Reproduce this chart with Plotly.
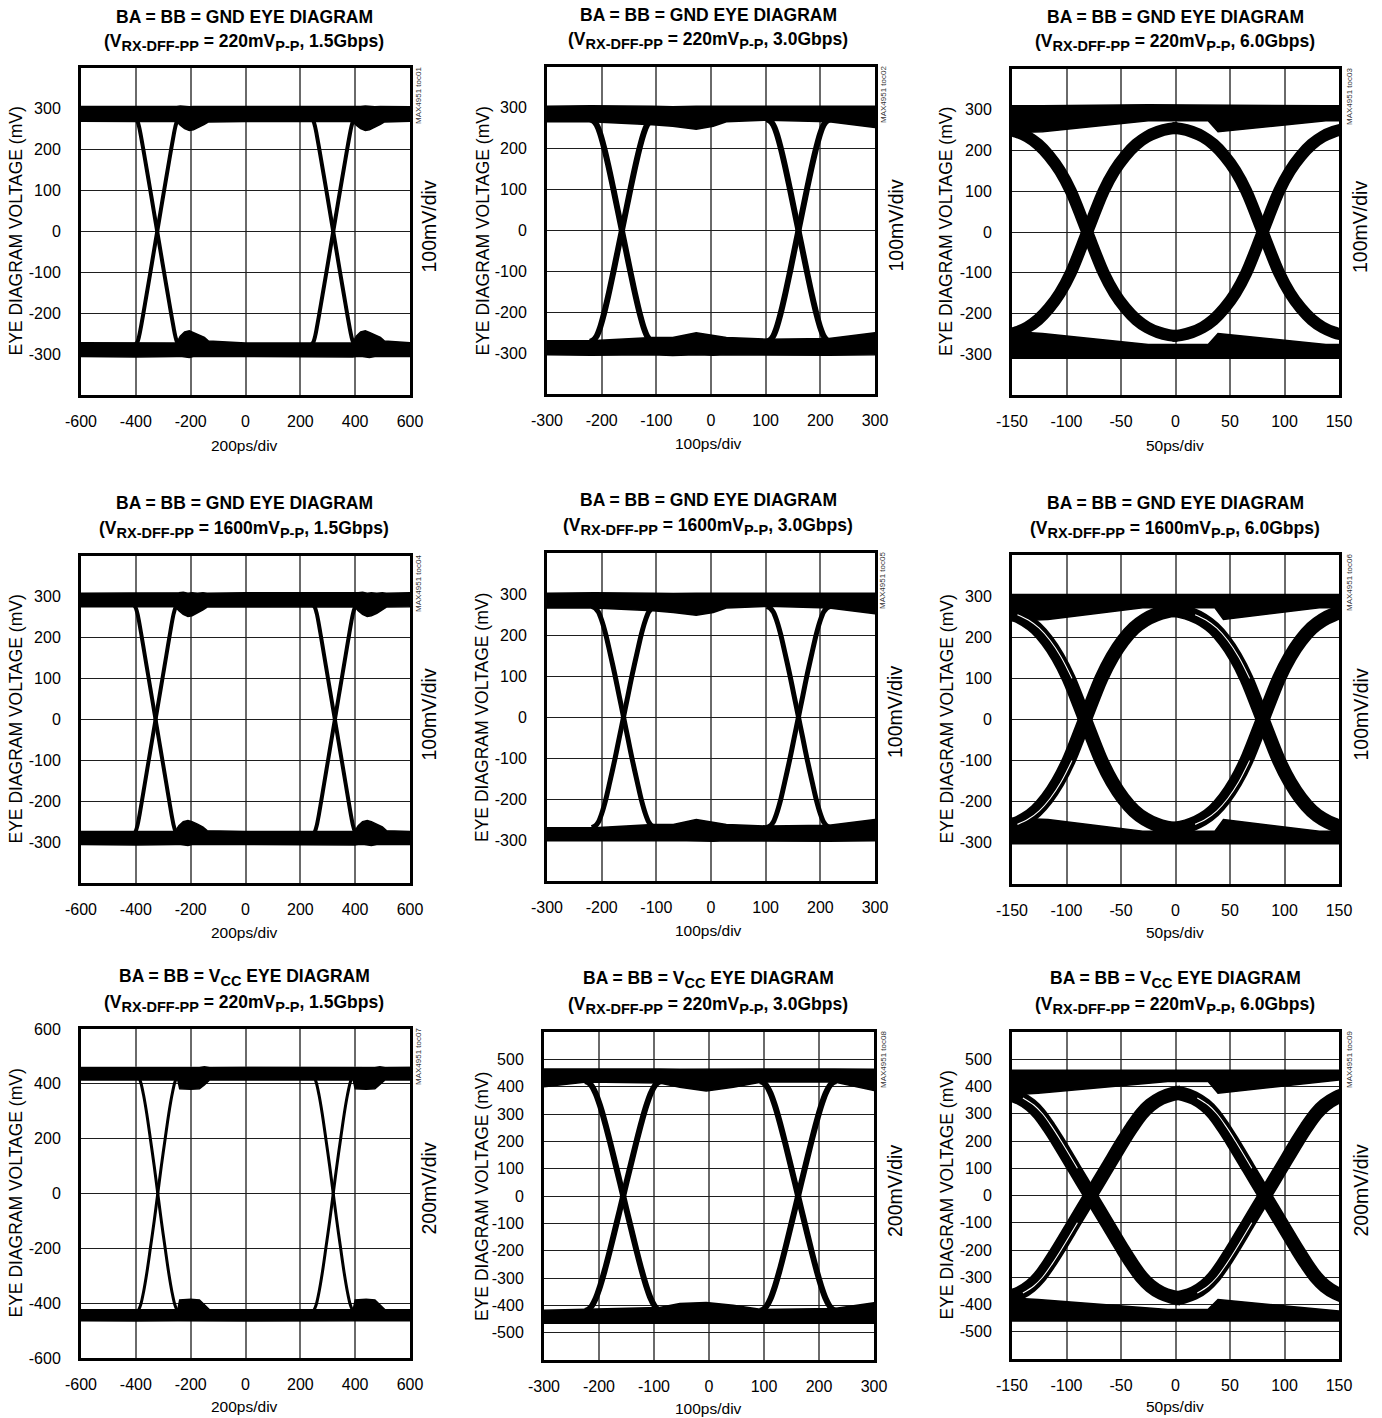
import plotly.graph_objects as go

W, H = 1382, 1418
FONT = "Liberation Sans Narrow, Arial Narrow, Liberation Sans, Arial, sans-serif"

# ---------------- tick values ----------------
x_ticks_1g5 = [-600, -400, -200, 0, 200, 400, 600]
x_ticks_3g0 = [-300, -200, -100, 0, 100, 200, 300]
x_ticks_6g0 = [-150, -100, -50, 0, 50, 100, 150]
y_ticks_gnd = [-300, -200, -100, 0, 100, 200, 300]
y_ticks_vcc_coarse = [-600, -400, -200, 0, 200, 400, 600]
y_ticks_vcc_fine = [-500, -400, -300, -200, -100, 0, 100, 200, 300, 400, 500]
p7_extra_grid = [-462, 460]

# ---------------- texts ----------------
SUB = "<sub><span style='font-size:14.5px'>%s</span></sub>"
title_line1 = ["BA = BB = GND EYE DIAGRAM"] * 6 + ["BA = BB = V" + SUB % "CC" + " EYE DIAGRAM"] * 3
title_amp = ["220", "220", "220", "1600", "1600", "1600", "220", "220", "220"]
title_rate = ["1.5Gbps", "3.0Gbps", "6.0Gbps"] * 3
title_line2 = ["(V" + SUB % "RX-DFF-PP" + " = " + a + "mV" + SUB % "P-P" + ", " + r_ + ")"
               for a, r_ in zip(title_amp, title_rate)]
x_titles = ["200ps/div", "100ps/div", "50ps/div"] * 3
y_title = "EYE DIAGRAM VOLTAGE (mV)"
scale_labels = ["100mV/div"] * 6 + ["200mV/div"] * 3
toc_labels = ["MAX4951 toc0%d" % i for i in range(1, 10)]

# ---------------- eye data (ps, mV) ----------------
# each panel: crossing times, rising-edge profile (dt from crossing, mV),
# rail x positions and the top/bottom outline of the high and low rail bands

# panel 1: GND, 220mVp-p, 1.5Gbps
p1_cross = [-322, 320]
p1_dt = [-78, -72, -66, -60, -51, -39, -26, -13, 0, 13, 26, 39, 51, 60, 66, 72, 78]
p1_v = [-276, -270, -256, -236, -202, -155, -104, -52, 0, 52, 104, 155, 202, 236, 256, 270, 276]
p1_rx = [-600, -400, -251, -238, -222, -205, -190, -170, -150, -135, 0, 391, 404, 420, 437, 452, 472, 492, 507, 600]
p1_ht = [306, 305, 306, 307, 306, 305, 306, 306, 305, 306, 306, 306, 305, 306, 307, 306, 305, 306, 306, 305]
p1_hb = [270, 269, 269, 260, 252, 247, 249, 255, 262, 268, 269, 269, 260, 252, 247, 249, 255, 262, 268, 270]
p1_lt = [-272, -273, -273, -256, -246, -243, -247, -253, -259, -268, -273, -273, -256, -246, -243, -247, -253, -259, -268, -272]
p1_lb = [-306, -307, -306, -305, -306, -308, -306, -305, -306, -306, -306, -307, -306, -305, -306, -308, -306, -305, -306, -306]

# panel 2: GND, 220mVp-p, 3.0Gbps
p2_cross = [-163, 160]
p2_dt = [-58, -52, -46, -40, -33, -25, -16, -8, 0, 8, 16, 25, 33, 40, 46, 52, 58]
p2_v = [-272, -268, -258, -238, -205, -160, -104, -52, 0, 52, 104, 160, 205, 238, 258, 268, 272]
p2_rx = [-300, -220, -107, -70, -27, 4, 28, 104, 216, 300]
p2_ht = [304, 305, 304, 303, 304, 305, 304, 304, 305, 304]
p2_hb = [266, 266, 259, 255, 248, 255, 266, 270, 266, 252]
p2_lt = [-270, -270, -262, -262, -250, -256, -262, -266, -264, -250]
p2_lb = [-304, -305, -304, -306, -304, -305, -304, -304, -305, -304]

# panel 3: GND, 220mVp-p, 6.0Gbps
p3_cross = [-81, 80]
p3_dt = [-83, -75, -65, -55, -45, -35, -25, -15, 0, 15, 25, 35, 45, 55, 65, 75, 83]
p3_v = [-255, -253, -246, -234, -215, -187, -150, -100, 0, 100, 150, 187, 215, 234, 246, 253, 255]
p3_rx = [-150, -122, -25, 30, 39, 138, 150]
p3_ht = [310, 310, 312, 311, 310, 310, 310]
p3_hb = [244, 246, 273, 273, 246, 273, 273]
p3_lt = [-244, -249, -276, -276, -249, -276, -276]
p3_lb = [-310, -310, -311, -310, -310, -310, -310]

# panel 4: GND, 1600mVp-p, 1.5Gbps
p4_cross = [-328, 326]
p4_dt = [-78, -72, -66, -60, -51, -39, -26, -13, 0, 13, 26, 39, 51, 60, 66, 72, 78]
p4_v = [-280, -273, -259, -239, -204, -156, -104, -52, 0, 52, 104, 156, 204, 239, 259, 273, 280]
p4_rx = [-600, -400, -256, -243, -227, -210, -195, -175, -155, -140, 0, 398, 411, 427, 444, 459, 479, 499, 514, 600]
p4_ht = [309, 310, 309, 310, 311, 309, 310, 309, 310, 309, 310, 309, 310, 311, 309, 310, 309, 310, 309, 310]
p4_hb = [276, 276, 276, 266, 257, 252, 254, 260, 268, 275, 276, 276, 266, 257, 252, 254, 260, 268, 275, 276]
p4_lt = [-274, -274, -274, -260, -250, -247, -250, -256, -263, -272, -274, -274, -260, -250, -247, -250, -256, -263, -272, -274]
p4_lb = [-306, -307, -306, -305, -306, -308, -306, -305, -306, -306, -306, -307, -306, -305, -306, -308, -306, -305, -306, -306]

# panel 5: GND, 1600mVp-p, 3.0Gbps
p5_cross = [-160, 160]
p5_dt = [-58, -52, -46, -40, -33, -25, -16, -8, 0, 8, 16, 25, 33, 40, 46, 52, 58]
p5_v = [-270, -266, -256, -236, -204, -158, -104, -52, 0, 52, 104, 158, 204, 236, 256, 266, 270]
p5_rx = [-300, -213, -106, -69, -27, 4, 28, 104, 216, 300]
p5_ht = [302, 303, 302, 301, 302, 303, 302, 302, 303, 302]
p5_hb = [266, 266, 259, 255, 248, 255, 266, 270, 266, 252]
p5_lt = [-270, -270, -262, -262, -250, -256, -262, -266, -264, -250]
p5_lb = [-302, -303, -302, -301, -302, -303, -302, -302, -303, -302]

# panel 6: GND, 1600mVp-p, 6.0Gbps
p6_cross = [-83, 80]
p6_dt = [-83, -75, -65, -55, -45, -35, -25, -15, 0, 15, 25, 35, 45, 55, 65, 75, 83]
p6_v = [-266, -263, -255, -242, -222, -192, -152, -100, 0, 100, 152, 192, 222, 242, 255, 263, 266]
p6_rx = [-150, -117, -30, 36, 44, 132, 150]
p6_ht = [304, 304, 305, 304, 304, 304, 304]
p6_hb = [240, 243, 272, 272, 243, 272, 272]
p6_lt = [-240, -243, -272, -272, -243, -272, -272]
p6_lb = [-302, -302, -303, -302, -302, -302, -302]

# panel 7: VCC, 220mVp-p, 1.5Gbps
p7_cross = [-320, 320]
p7_dt = [-76, -70, -62, -52, -40, -27, -13, 0, 13, 27, 40, 52, 62, 70, 76]
p7_v = [-432, -425, -405, -360, -290, -200, -100, 0, 100, 200, 290, 360, 405, 425, 432]
p7_rx = [-600, -400, -247, -240, -200, -168, -150, -131, 0, 393, 400, 440, 472, 490, 509, 600]
p7_ht = [459, 460, 459, 461, 460, 459, 462, 459, 460, 459, 461, 460, 459, 462, 459, 460]
p7_hb = [414, 414, 414, 382, 380, 382, 396, 414, 414, 414, 382, 380, 382, 396, 414, 414]
p7_lt = [-424, -424, -424, -388, -386, -388, -405, -424, -424, -424, -388, -386, -388, -405, -424, -424]
p7_lb = [-464, -465, -464, -463, -464, -466, -464, -464, -465, -464, -463, -464, -466, -464, -464, -464]

# panel 8: VCC, 220mVp-p, 3.0Gbps
p8_cross = [-156, 162]
p8_dt = [-69, -63, -57, -50, -42, -34, -24, -12, 0, 12, 24, 34, 42, 50, 57, 63, 69]
p8_v = [-420, -415, -402, -375, -330, -275, -198, -100, 0, 100, 198, 275, 330, 375, 402, 415, 420]
p8_rx = [-300, -223, -90, -53, -5, 44, 96, 228, 300]
p8_ht = [465, 466, 465, 464, 465, 466, 465, 465, 464]
p8_hb = [400, 417, 413, 398, 384, 398, 417, 417, 386]
p8_lt = [-418, -415, -408, -393, -390, -400, -415, -412, -391]
p8_lb = [-466, -467, -466, -465, -466, -467, -466, -466, -466]

# panel 9: VCC, 220mVp-p, 6.0Gbps
p9_cross = [-78, 82]
p9_dt = [-83, -75, -65, -55, -47, -38, -30, -15, 0, 15, 30, 38, 47, 55, 65, 75, 83]
p9_v = [-378, -372, -358, -332, -300, -250, -200, -100, 0, 100, 200, 250, 300, 332, 358, 372, 378]
p9_rx = [-150, -126, -7, 30, 39, 150]
p9_ht = [460, 460, 461, 460, 460, 460]
p9_hb = [370, 375, 418, 418, 375, 424]
p9_lt = [-376, -382, -418, -418, -382, -424]
p9_lb = [-461, -461, -462, -461, -461, -461]

panels = [
    (p1_cross, p1_dt, p1_v, p1_rx, p1_ht, p1_hb, p1_lt, p1_lb),
    (p2_cross, p2_dt, p2_v, p2_rx, p2_ht, p2_hb, p2_lt, p2_lb),
    (p3_cross, p3_dt, p3_v, p3_rx, p3_ht, p3_hb, p3_lt, p3_lb),
    (p4_cross, p4_dt, p4_v, p4_rx, p4_ht, p4_hb, p4_lt, p4_lb),
    (p5_cross, p5_dt, p5_v, p5_rx, p5_ht, p5_hb, p5_lt, p5_lb),
    (p6_cross, p6_dt, p6_v, p6_rx, p6_ht, p6_hb, p6_lt, p6_lb),
    (p7_cross, p7_dt, p7_v, p7_rx, p7_ht, p7_hb, p7_lt, p7_lb),
    (p8_cross, p8_dt, p8_v, p8_rx, p8_ht, p8_hb, p8_lt, p8_lb),
    (p9_cross, p9_dt, p9_v, p9_rx, p9_ht, p9_hb, p9_lt, p9_lb),
]

# ---------------- layout / style (pixels) ----------------
boxes = [  # left, top, right, bottom
    (81, 68, 410, 395), (547, 67, 875, 394), (1012, 69, 1339, 395),
    (81, 556, 410, 883), (547, 553, 875, 881), (1012, 555, 1339, 884),
    (81, 1029, 410, 1358), (544, 1032, 874, 1360), (1012, 1032, 1339, 1359),
]
x_ranges = [(-600, 600), (-300, 300), (-150, 150)] * 3
x_ticks = [x_ticks_1g5, x_ticks_3g0, x_ticks_6g0] * 3
y_ranges = [(-400, 400)] * 6 + [(-600, 600)] * 3
y_ticks = [y_ticks_gnd] * 6 + [y_ticks_vcc_coarse, y_ticks_vcc_fine, y_ticks_vcc_fine]
edge_width = [4, 6, 12, 4, 5, 14, 3, 6, 14]
double_trace = [False, False, False, False, False, True, False, False, True]
title_y1 = [17, 15, 17, 503, 500, 503, 977, 979, 979]
xlabel_y = [445, 443, 445, 932, 930, 932, 1406, 1408, 1406]
col_title_x = [244, 708, 1175]
col_ytitle_x = [15, 482, 946]
col_scale_x = [428, 895, 1360]
col_toc_x = [418, 883, 1349]

TICK_SIZE = 16
TITLE_SIZE = 17.5

fig = go.Figure()
layout = dict(
    width=W, height=H, autosize=False,
    margin=dict(l=0, r=0, t=0, b=0, pad=0),
    paper_bgcolor="white", plot_bgcolor="white",
    showlegend=False,
    font=dict(family=FONT, size=TICK_SIZE, color="black"),
)
annotations = []
shapes = []


def px(x):
    return x / W


def py(y):
    return 1 - y / H


for k in range(9):
    cross, dt, v, rx, ht, hb, lt, lb = panels[k]
    l, t, r, b = boxes[k]
    sfx = "" if k == 0 else str(k + 1)
    xa, ya = "x" + sfx, "y" + sfx

    # rails (filled bands)
    for top, bot in ((ht, hb), (lt, lb)):
        fig.add_trace(go.Scatter(
            x=list(rx) + list(rx)[::-1], y=list(top) + list(bot)[::-1],
            mode="lines", fill="toself", fillcolor="black",
            line=dict(color="black", width=1.5), xaxis=xa, yaxis=ya,
            hoverinfo="skip"))
    # edges (rising and falling through every crossing)
    for c in cross:
        ex = [c + d for d in dt]
        for ey in (v, [-a for a in v]):
            fig.add_trace(go.Scatter(
                x=ex, y=ey, mode="lines",
                line=dict(color="black", width=edge_width[k], shape="spline", smoothing=0.9),
                xaxis=xa, yaxis=ya, hoverinfo="skip"))
    # thin gap inside the band where two trace families overlap
    if double_trace[k]:
        for c in cross:
            sel = [i for i, d in enumerate(dt) if -70 <= d <= -8]
            gx = [c + dt[i] + 3 for i in sel]
            for ey in ([v[i] for i in sel], [-v[i] for i in sel]):
                fig.add_trace(go.Scatter(
                    x=gx, y=ey, mode="lines",
                    line=dict(color="white", width=1.1, shape="spline"),
                    xaxis=xa, yaxis=ya, hoverinfo="skip"))

    common = dict(showline=True, mirror=True, linecolor="black", linewidth=3,
                  ticks="", zeroline=False, showgrid=True, automargin=False,
                  tickfont=dict(family=FONT, size=TICK_SIZE, color="black"), layer="above traces")
    layout["xaxis" + sfx] = dict(
        domain=[px(l), px(r)], range=list(x_ranges[k]), anchor=ya,
        tickmode="array", tickvals=x_ticks[k], ticktext=[str(t_) for t_ in x_ticks[k]],
        gridcolor="#6a6a6a", gridwidth=1.5, ticklabelstandoff=10, **common)
    layout["yaxis" + sfx] = dict(
        domain=[py(b), py(t)], range=list(y_ranges[k]), anchor=xa,
        tickmode="array", tickvals=y_ticks[k], ticktext=[str(t_) for t_ in y_ticks[k]],
        gridcolor="#1e1e1e", gridwidth=1.2, ticklabelstandoff=14, **common)

    if k == 6:
        for g in p7_extra_grid:
            shapes.append(dict(type="line", xref=xa + " domain", yref=ya, x0=0, x1=1, y0=g, y1=g,
                               line=dict(color="#1e1e1e", width=1.2), layer="below"))

    col = k % 3
    cy = (t + b) / 2
    base = dict(xref="paper", yref="paper", showarrow=False, xanchor="center", yanchor="middle")
    annotations += [
        dict(x=px(col_title_x[col]), y=py(title_y1[k]), text=title_line1[k],
             font=dict(size=TITLE_SIZE, weight="bold"), **base),
        dict(x=px(col_title_x[col]), y=py(title_y1[k] + 26), text=title_line2[k],
             font=dict(size=TITLE_SIZE, weight="bold"), **base),
        dict(x=px(col_title_x[col]), y=py(xlabel_y[k]), text=x_titles[k],
             font=dict(size=15.5), **base),
        dict(x=px(col_ytitle_x[col]), y=py(cy), text=y_title, textangle=-90,
             font=dict(size=17.5), **base),
        dict(x=px(col_scale_x[col]), y=py(cy - 5), text=scale_labels[k], textangle=-90,
             font=dict(size=19.5), **base),
        dict(x=px(col_toc_x[col]), y=py(t + 28), text=toc_labels[k], textangle=-90,
             font=dict(size=8, color="#333"), **base),
    ]

layout["annotations"] = annotations
layout["shapes"] = shapes
fig.update_layout(**layout)
fig.write_html(
    "out.html",
    config={"displayModeBar": False},
    post_script="document.body.style.margin='0';document.body.style.padding='0';"
                "document.documentElement.style.overflow='hidden';",
)
